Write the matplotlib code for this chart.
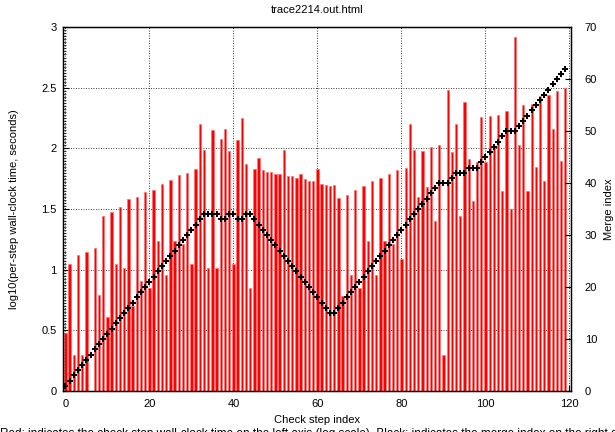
import matplotlib
matplotlib.use("Agg")
import matplotlib.pyplot as plt
from matplotlib.ticker import MultipleLocator, FormatStrFormatter

plt.rcParams["font.family"] = ["Liberation Sans", "DejaVu Sans"]
plt.rcParams["font.size"] = 8

# per-step wall-clock time (log10 seconds), one value per check step
step_time = [
    0.48, 1.05, 0.30, 1.12, 0.30, 1.15, 0.00, 1.18, 0.79, 1.44,
    0.61, 1.48, 1.05, 1.52, 1.01, 1.58, 0.70, 1.60, 0.91, 1.64,
    0.85, 1.66, 1.24, 1.71, 0.96, 1.74, 1.24, 1.78, 1.21, 1.80,
    1.05, 1.83, 2.20, 1.99, 1.01, 2.15, 1.01, 2.08, 2.16, 1.98,
    1.05, 2.07, 2.25, 1.87, 0.85, 1.83, 1.92, 1.82, 1.81, 1.81,
    1.79, 1.79, 1.99, 1.77, 1.77, 1.76, 1.79, 1.75, 1.73, 1.73,
    1.83, 1.71, 1.70, 1.69, 1.70, 1.59, 0.78, 1.62, 0.96, 1.66,
    0.85, 1.69, 1.24, 1.73, 0.96, 1.76, 1.24, 1.79, 1.21, 1.82,
    1.09, 1.84, 2.20, 1.99, 1.60, 1.98, 1.68, 2.01, 1.40, 2.03,
    0.30, 2.48, 1.97, 2.20, 1.44, 2.38, 1.91, 1.57, 1.89, 2.26,
    1.89, 2.27, 2.02, 2.28, 1.65, 2.31, 1.50, 2.92, 2.03, 2.36,
    1.65, 2.37, 1.85, 2.43, 1.73, 2.44, 2.16, 2.47, 1.90, 2.50,
]

# merge index after each check step (right axis)
merge_index = [
    1, 2, 3, 4, 5, 6, 7, 8, 9, 10,
    11, 12, 13, 14, 15, 16, 17, 18, 19, 20,
    21, 22, 23, 24, 25, 26, 27, 28, 29, 30,
    31, 32, 33, 34, 34, 34, 34, 33, 33, 34,
    34, 33, 33, 34, 34, 33, 32, 31, 30, 29,
    28, 27, 26, 25, 24, 23, 22, 21, 20, 19,
    18, 17, 16, 15, 15, 16, 17, 18, 19, 20,
    21, 22, 23, 24, 25, 26, 27, 28, 29, 30,
    31, 32, 33, 34, 35, 36, 37, 38, 39, 40,
    40, 40, 41, 42, 42, 42, 43, 43, 43, 44,
    45, 46, 47, 48, 49, 50, 50, 50, 51, 52,
    53, 54, 55, 56, 57, 58, 59, 60, 61, 62,
]

steps = list(range(len(step_time)))

title = "trace2214.out.html"
caption = ("Red: indicates the check step wall-clock time on the left axis (log scale). "
           "Black: indicates the merge index on the right axis.")

fig = plt.figure(figsize=(6.15, 4.32), dpi=100)
ax = fig.add_axes([0.103, 0.095, 0.825, 0.842])

grid_style = dict(color="black", linestyle=(0, (1, 2)), linewidth=0.6)
ax.set_axisbelow(True)
ax.grid(True, which="major", **grid_style)

ax.bar(steps, step_time, width=0.55, color="#ff0000", edgecolor="#ff7070",
       linewidth=0.5, zorder=2)

ax.set_xlim(-0.5, 120.3)
ax.set_ylim(0, 3)
ax.xaxis.set_major_locator(MultipleLocator(20))
ax.yaxis.set_major_locator(MultipleLocator(0.5))
ax.yaxis.set_major_formatter(FormatStrFormatter("%g"))
ax.yaxis.set_minor_locator(MultipleLocator(0.025))
ax.tick_params(direction="in", length=4, width=0.8, pad=5)
ax.tick_params(axis="x", pad=6, top=False)
ax.tick_params(axis="y", which="minor", direction="in", length=2, width=0.5)
ax.set_xlabel("Check step index", labelpad=4)
ax.set_ylabel("log10(per-step wall-clock time, seconds)", labelpad=16)
ax.set_title(title, fontsize=8, pad=10)
for s in ax.spines.values():
    s.set_linewidth(1.0)

ax2 = ax.twinx()
ax2.plot(steps, merge_index, linestyle="none", marker="P", markersize=4.8,
         color="black", markeredgewidth=0, zorder=3)
ax2.set_ylim(0, 70)
ax2.yaxis.set_major_locator(MultipleLocator(10))
ax2.tick_params(direction="in", length=4, width=0.8, pad=10)
ax2.set_ylabel("Merge index", labelpad=5)

fig.text(0.0, 0.009, caption, ha="left", va="top", fontsize=8.5)

fig.savefig("out.png", dpi=100)
